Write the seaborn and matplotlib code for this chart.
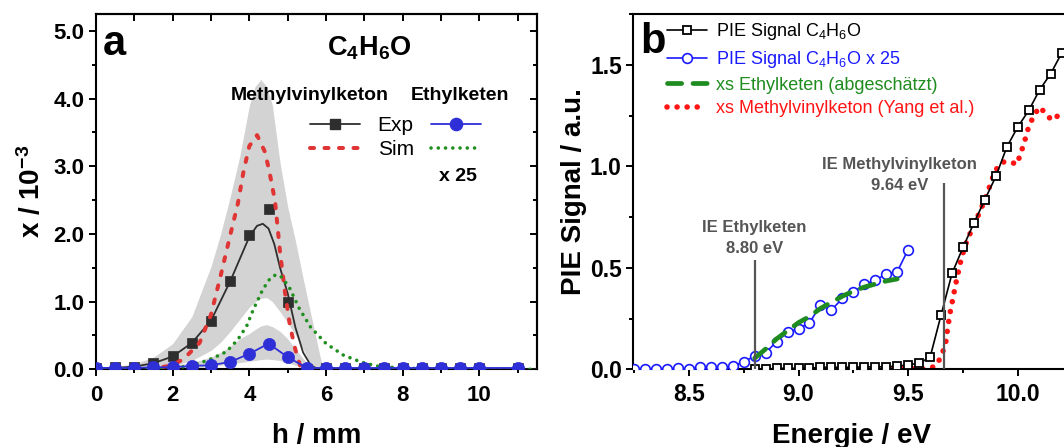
import matplotlib
matplotlib.use('Agg')
import matplotlib.pyplot as plt
from matplotlib.lines import Line2D
from matplotlib.ticker import MultipleLocator, FormatStrFormatter
import seaborn as sns

# ---------------- panel a: profiles of C4H6O (x / 1e-3) ----------------
h_exp = [0, 0.5, 1, 1.5, 2, 2.5, 3, 3.5, 4, 4.5, 5, 5.5, 6, 6.5, 7, 7.5, 8, 8.5, 9, 9.5, 10, 11]
mvk_exp = [0.02, 0.03, 0.04, 0.09, 0.19, 0.39, 0.72, 1.30, 1.98, 2.37, 0.99, 0.01,
           0.02, 0.02, 0.02, 0.02, 0.02, 0.02, 0.02, 0.02, 0.02, 0.02]
ek_exp = [0.02, 0.02, 0.02, 0.03, 0.03, 0.05, 0.06, 0.11, 0.23, 0.38, 0.18, 0.02,
          0.02, 0.02, 0.02, 0.02, 0.02, 0.02, 0.02, 0.02, 0.02, 0.02]

# smooth curve drawn through the Methylvinylketon data
h_fit = [0, 0.5, 1, 1.5, 2, 2.5, 3, 3.5, 3.75, 4, 4.2, 4.35, 4.5, 4.65, 4.8, 5.0, 5.2, 5.4, 5.6, 5.8, 6.0, 11.5]
mvk_fit = [0.01, 0.02, 0.04, 0.09, 0.19, 0.39, 0.72, 1.30, 1.63, 1.96, 2.12, 2.15, 2.08, 1.85, 1.50,
           1.12, 0.62, 0.25, 0.06, 0.0, 0.0, 0.0]

h_sim_mvk = [1, 1.5, 2, 2.3, 2.7, 3.0, 3.25, 3.5, 3.7, 3.85, 4.0, 4.2, 4.4, 4.52, 4.67, 4.8,
             4.93, 5.06, 5.2, 5.33, 5.5, 6.0]
mvk_sim = [0.0, 0.01, 0.06, 0.16, 0.39, 0.81, 1.38, 1.98, 2.45, 2.93, 3.30, 3.46, 3.22, 2.93, 2.48,
           1.73, 1.13, 0.64, 0.29, 0.04, 0.0, 0.0]

h_sim_ek = [0, 1, 2, 2.3, 2.7, 3.05, 3.4, 3.7, 3.93, 4.1, 4.35, 4.55, 4.7, 4.85, 5.05, 5.3, 5.6,
            6.0, 6.45, 6.9, 7.3, 7.9, 9.0, 11.5]
ek_sim_x25 = [0.0, 0.0, 0.01, 0.04, 0.09, 0.165, 0.26, 0.44, 0.64, 0.88, 1.18, 1.35, 1.40, 1.36,
              1.20, 0.90, 0.62, 0.38, 0.21, 0.11, 0.05, 0.02, 0.0, 0.0]

# uncertainty bands
h_band = [0, 0.5, 1, 1.5, 2, 2.5, 3, 3.25, 3.5, 3.75, 4, 4.15, 4.3, 4.45, 4.6, 4.8, 5.0, 5.2, 5.4,
          5.6, 5.8, 5.9, 6.0]
mvk_upper = [0.02, 0.04, 0.08, 0.18, 0.38, 0.78, 1.52, 2.0, 2.55, 3.15, 3.9, 4.18, 4.28, 4.18, 3.9,
             3.05, 2.4, 1.9, 1.35, 0.82, 0.3, 0.05, 0.0]
mvk_lower = [0.0, 0.0, 0.0, 0.0, 0.05, 0.13, 0.28, 0.40, 0.56, 0.74, 0.92, 1.0, 1.05, 1.06, 1.0,
             0.85, 0.69, 0.51, 0.30, 0.07, 0.0, 0.0, 0.0]
ek_upper = [0.03, 0.03, 0.04, 0.05, 0.06, 0.10, 0.18, 0.25, 0.34, 0.45, 0.53, 0.59, 0.64, 0.66, 0.63,
            0.56, 0.45, 0.30, 0.16, 0.03, 0.0, 0.0, 0.0]
ek_lower = [0.01, 0.01, 0.01, 0.01, 0.01, 0.02, 0.04, 0.06, 0.08, 0.10, 0.12, 0.13, 0.145, 0.15, 0.145,
            0.13, 0.10, 0.06, 0.03, 0.01, 0.0, 0.0, 0.0]

# ---------------- panel b: PIE curves ----------------
e_pie = [8.80, 8.85, 8.90, 8.95, 9.00, 9.05, 9.10, 9.15, 9.20, 9.25, 9.30, 9.35, 9.40, 9.45, 9.50,
         9.55, 9.60, 9.65, 9.70, 9.75, 9.80, 9.85, 9.90, 9.95, 10.00, 10.05, 10.10, 10.15, 10.20]
pie_signal = [0.0, 0.0, 0.005, 0.005, 0.005, 0.005, 0.01, 0.01, 0.01, 0.01, 0.012, 0.012, 0.012,
              0.016, 0.022, 0.03, 0.059, 0.267, 0.472, 0.60, 0.721, 0.836, 0.95, 1.095, 1.194,
              1.275, 1.377, 1.456, 1.557]

e_pie25 = [8.25, 8.30, 8.35, 8.40, 8.45, 8.50, 8.55, 8.60, 8.65, 8.70, 8.75, 8.80, 8.85, 8.90,
           8.95, 9.00, 9.05, 9.10, 9.15, 9.20, 9.25, 9.30, 9.35, 9.40, 9.45, 9.50]
pie_signal_x25 = [0.0, 0.0, 0.0, 0.0, 0.005, 0.0, 0.01, 0.01, 0.01, 0.015, 0.037, 0.065, 0.082,
                  0.136, 0.182, 0.20, 0.229, 0.315, 0.292, 0.349, 0.38, 0.418, 0.439, 0.469,
                  0.48, 0.59]

e_xs_ek = [8.80, 8.85, 8.90, 8.95, 9.00, 9.05, 9.10, 9.15, 9.20, 9.25, 9.30, 9.35, 9.40, 9.45]
xs_ek = [0.055, 0.10, 0.15, 0.19, 0.23, 0.26, 0.30, 0.33, 0.36, 0.385, 0.405, 0.42, 0.435, 0.445]

e_xs_mvk = [9.43, 9.50, 9.55, 9.60, 9.63, 9.65, 9.67, 9.68, 9.69, 9.70, 9.72, 9.74, 9.76, 9.79,
            9.83, 9.865, 9.88, 9.90, 9.93, 9.965, 9.997, 10.012, 10.03, 10.04, 10.058, 10.081,
            10.103, 10.13, 10.16, 10.20]
xs_mvk = [0.0, 0.005, 0.0, 0.005, 0.02, 0.065, 0.12, 0.20, 0.272, 0.327, 0.436, 0.534, 0.61,
          0.688, 0.783, 0.878, 0.93, 0.983, 1.021, 1.021, 1.010, 1.062, 1.115, 1.164, 1.215,
          1.264, 1.292, 1.251, 1.226, 1.267]

ie_energy = [8.80, 9.665]
ie_top = [0.54, 0.92]

# ---------------- style ----------------
sns.set_theme(style='ticks', rc={
    'axes.edgecolor': 'black', 'axes.linewidth': 1.5,
    'xtick.color': 'black', 'ytick.color': 'black',
    'text.color': 'black', 'axes.labelcolor': 'black',
    'xtick.major.width': 1.4, 'ytick.major.width': 1.4,
    'xtick.minor.width': 1.4, 'ytick.minor.width': 1.4,
    'xtick.major.size': 5, 'ytick.major.size': 5,
    'xtick.minor.size': 3, 'ytick.minor.size': 3,
    'legend.numpoints': 1,
})
plt.rcParams['font.family'] = ['Liberation Sans', 'DejaVu Sans']
plt.rcParams['mathtext.fontset'] = 'custom'
plt.rcParams['mathtext.rm'] = 'Liberation Sans'
plt.rcParams['mathtext.it'] = 'Liberation Sans:italic'
plt.rcParams['mathtext.bf'] = 'Liberation Sans:bold'

BAND = '#d3d3d3'
BLK_A = '#2e2e2e'
RED_A = '#e03535'
GRN_A = '#1f8f1f'
BLU_A = '#2f2fd8'
GRAY_T = '#555555'

fig = plt.figure(figsize=(10.64, 4.47), dpi=100)
ax = fig.add_axes([0.0902, 0.1738, 0.4145, 0.7949])
bx = fig.add_axes([0.5949, 0.1738, 0.4101, 0.7949])

# ---------------- panel a ----------------
ax.fill_between(h_band, mvk_lower, mvk_upper, color=BAND, lw=0, zorder=1)
ax.fill_between(h_band, ek_lower, ek_upper, color=BAND, lw=0, zorder=1)

sns.lineplot(x=h_fit, y=mvk_fit, ax=ax, color=BLK_A, lw=1.3, estimator=None, sort=False, zorder=3)
sns.scatterplot(x=h_exp, y=mvk_exp, ax=ax, marker='s', s=62, color=BLK_A, edgecolor=BLK_A,
                linewidth=0.5, zorder=3)
sns.lineplot(x=h_sim_mvk, y=mvk_sim, ax=ax, color=RED_A, lw=2.9, estimator=None, sort=False,
             linestyle=(0, (1.0, 2.6)), dash_capstyle='round', zorder=4)
sns.lineplot(x=h_sim_ek, y=ek_sim_x25, ax=ax, color=GRN_A, lw=2.6, estimator=None, sort=False,
             linestyle=(0, (0.01, 2.0)), dash_capstyle='round', zorder=4.5)
sns.lineplot(x=h_exp, y=ek_exp, ax=ax, color=BLU_A, lw=1.3, estimator=None, sort=False,
             marker='o', markersize=8.8, markeredgecolor=BLU_A, markeredgewidth=0.5, zorder=5)

ax.set_xlim(0, 11.5)
ax.set_ylim(0, 5.25)
ax.xaxis.set_major_locator(MultipleLocator(2))
ax.xaxis.set_minor_locator(MultipleLocator(1))
ax.yaxis.set_major_locator(MultipleLocator(1))
ax.yaxis.set_minor_locator(MultipleLocator(0.5))
ax.yaxis.set_major_formatter(FormatStrFormatter('%.1f'))
ax.tick_params(axis='x', which='both', direction='out', pad=6.5, labelsize=16)
ax.tick_params(axis='y', which='both', direction='out', pad=3.5, labelsize=16)
for lab in ax.get_xticklabels() + ax.get_yticklabels():
    lab.set_fontweight('bold')

top = ax.secondary_xaxis('top')
top.xaxis.set_major_locator(MultipleLocator(2))
top.xaxis.set_minor_locator(MultipleLocator(1))
top.tick_params(which='both', direction='in', labeltop=False, width=1.4)
top.tick_params(which='minor', length=5)
right = ax.secondary_yaxis('right')
right.yaxis.set_major_locator(MultipleLocator(1))
right.yaxis.set_minor_locator(MultipleLocator(0.5))
right.tick_params(which='both', direction='in', labelright=False, width=1.4)
for sec in (top, right):
    for sp in sec.spines.values():
        sp.set_linewidth(1.5)

ax.set_xlabel('h / mm', fontsize=20, fontweight='bold', labelpad=12)
ax.set_ylabel(r'$\mathbf{x\ /\ 10^{-3}}$', fontsize=20, labelpad=5)

ax.text(0.016, 0.885, 'a', transform=ax.transAxes, fontsize=30, fontweight='bold',
        ha='left', va='baseline')
ax.text(0.62, 0.882, r'$\mathbf{C_4H_6O}$', transform=ax.transAxes, fontsize=19.5,
        ha='center', va='baseline')
ax.text(0.484, 0.758, 'Methylvinylketon', transform=ax.transAxes, fontsize=14,
        fontweight='bold', ha='center', va='baseline')
ax.text(0.825, 0.758, 'Ethylketen', transform=ax.transAxes, fontsize=14,
        fontweight='bold', ha='center', va='baseline')
ax.text(0.82, 0.531, 'x 25', transform=ax.transAxes, fontsize=14,
        fontweight='bold', ha='center', va='baseline')

handles_a = [
    Line2D([], [], color=BLK_A, lw=1.3, marker='s', markersize=7.6),
    Line2D([], [], color=RED_A, lw=2.9, linestyle=(0, (1.0, 2.6)), dash_capstyle='round'),
    Line2D([], [], color=BLU_A, lw=1.3, marker='o', markersize=8.8),
    Line2D([], [], color=GRN_A, lw=2.6, linestyle=(0, (0.01, 2.0)), dash_capstyle='round'),
]
ax.legend(handles_a, ['Exp', 'Sim', '', ''], ncol=2, loc='center left',
          bbox_to_anchor=(0.485, 0.652), frameon=False, fontsize=15, borderpad=0,
          borderaxespad=0, handlelength=2.4, handletextpad=0.85, columnspacing=0.85,
          labelspacing=0.26)

# ---------------- panel b ----------------
sns.lineplot(x=e_xs_mvk, y=xs_mvk, ax=bx, color='#ff1414', lw=4.0, estimator=None, sort=False,
             linestyle=(0, (0.01, 1.8)), dash_capstyle='round', zorder=2,
             label='xs Methylvinylketon (Yang et al.)')
sns.lineplot(x=e_pie, y=pie_signal, ax=bx, color='black', lw=1.2, estimator=None, sort=False,
             marker='s', markersize=6.4, markerfacecolor='white', markeredgecolor='black',
             markeredgewidth=1.3, zorder=3, label=r'PIE Signal C$_4$H$_6$O')
sns.lineplot(x=e_pie25, y=pie_signal_x25, ax=bx, color='#1a1aff', lw=1.2, estimator=None,
             sort=False, marker='o', markersize=7.0, markerfacecolor='white',
             markeredgecolor='#1a1aff', markeredgewidth=1.2, zorder=3,
             label=r'PIE Signal C$_4$H$_6$O x 25')
sns.lineplot(x=e_xs_ek, y=xs_ek, ax=bx, color='#1e8c1e', lw=3.4, estimator=None, sort=False,
             linestyle=(0, (3.0, 2.4)), dash_capstyle='round', zorder=4,
             label='xs Ethylketen (abgeschätzt)')

bx.vlines(ie_energy, 0, ie_top, color='#555555', lw=1.6, zorder=5)
bx.text(8.80, 0.677, 'IE Ethylketen', fontsize=12, fontweight='bold', color=GRAY_T,
        ha='center', va='baseline')
bx.text(8.80, 0.575, '8.80 eV', fontsize=12, fontweight='bold', color=GRAY_T,
        ha='center', va='baseline')
bx.text(9.462, 0.989, 'IE Methylvinylketon', fontsize=12, fontweight='bold', color=GRAY_T,
        ha='center', va='baseline')
bx.text(9.462, 0.885, '9.64 eV', fontsize=12, fontweight='bold', color=GRAY_T,
        ha='center', va='baseline')

bx.set_xlim(8.245, 10.235)
bx.set_ylim(0, 1.75)
bx.xaxis.set_major_locator(MultipleLocator(0.5))
bx.xaxis.set_minor_locator(MultipleLocator(0.25))
bx.yaxis.set_major_locator(MultipleLocator(0.5))
bx.yaxis.set_minor_locator(MultipleLocator(0.25))
bx.xaxis.set_major_formatter(FormatStrFormatter('%.1f'))
bx.yaxis.set_major_formatter(FormatStrFormatter('%.1f'))
bx.tick_params(axis='x', which='both', direction='out', pad=5, labelsize=16.5)
bx.tick_params(axis='y', which='both', direction='out', pad=3, labelsize=16.5)
for lab in bx.get_xticklabels() + bx.get_yticklabels():
    lab.set_fontweight('bold')
bx.set_xlabel('Energie / eV', fontsize=20, fontweight='bold', labelpad=12)
bx.set_ylabel('PIE Signal / a.u.', fontsize=20, fontweight='bold', labelpad=2)

bx.text(0.0176, 0.889, 'b', transform=bx.transAxes, fontsize=30, fontweight='bold',
        ha='left', va='baseline')

hs, ls = bx.get_legend_handles_labels()
order = [1, 2, 3, 0]
bx.legend([hs[i] for i in order], [ls[i] for i in order], loc='upper left',
          bbox_to_anchor=(0.0688 * 0.4647 / 0.4101, 0.979), frameon=False, fontsize=13,
          borderpad=0, borderaxespad=0, handlelength=2.2, handletextpad=0.5,
          labelspacing=0.37, labelcolor='linecolor')

fig.savefig('out.png', dpi=100)
